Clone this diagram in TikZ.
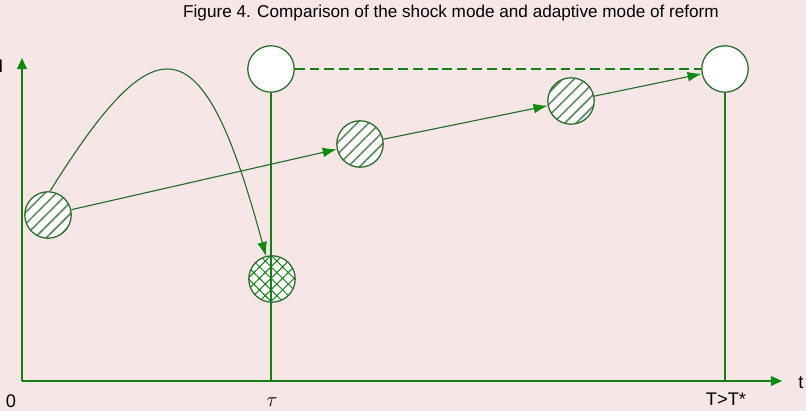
\documentclass[tikz,border=0pt]{standalone}
\usepackage{fontspec}
\setmainfont{Liberation Sans}
\usetikzlibrary{arrows.meta,patterns.meta,positioning}
\definecolor{bgpink}{RGB}{246,230,230}
\definecolor{axisgreen}{RGB}{20,128,20}
\definecolor{rimgreen}{RGB}{40,108,40}
\definecolor{hatchgreen}{RGB}{100,140,100}
\definecolor{tipgreen}{RGB}{12,140,12}
\tikzset{
  stage/.style={
    shape = circle,
    minimum size = 33pt,
    inner sep = 0pt,
    draw = rimgreen,
    line width = 0.9pt
  },
  blank/.style={
    stage,
    fill = white
  },
  hatched/.style={
    stage,
    preaction = {fill = white},
    pattern = {Lines[angle=45, distance=5.8pt, line width=1.2pt]},
    pattern color = hatchgreen
  },
  crossed/.style={
    stage,
    preaction = {fill = white},
    pattern = {Hatch[angle=45, distance=5.8pt, line width=0.7pt]},
    pattern color = axisgreen
  },
}
\tikzset{
  axis/.style={
    draw = axisgreen,
    line width = 1.1pt,
    -{Triangle[length=8pt, width=7pt, color=tipgreen]}
  },
  guide/.style={
    draw = axisgreen,
    line width = 0.9pt
  },
  move/.style={
    draw = rimgreen,
    line width = 0.8pt,
    -{Latex[length=10pt, width=7pt, color=tipgreen]}
  },
  lab/.style={
    font = \fontsize{13}{15}\selectfont,
    inner sep = 0pt
  }
}

\begin{document}
\begin{tikzpicture}[x=0.025cm, y=0.025cm]
\fill[bgpink] (0,0) rectangle (806,411);
\useasboundingbox (0,0) rectangle (806,411);
\node[font=\fontsize{12.2}{14}\selectfont] (title) at (451,398) {Figure 4. Comparison of the shock mode and adaptive mode of reform};
\coordinate (O) at (22,30);
\coordinate (ytip) at (22,353);
\coordinate (xtip) at (782,30);
\draw[axis] (O) -- (ytip);
\draw[axis] (O) -- (xtip);
\node[lab] (Ilab) at (1,345) {I};
\node[lab] (tlab) at (801,28) {t};
\node[lab] (zero) at (11,10) {0};
\foreach \name/\pos in {A/{48,196}, D/{360,267}, E/{571,310}}
  \node[hatched] (\name) at (\pos) {};
\node[blank] (B) at (271,342) {};
\node[blank] (F) at (725,342) {};
\node[crossed] (C) at (272,132) {};
\draw[guide] (B) -- (B |- O);
\draw[guide] (F) -- (F |- O);
\draw[guide, dash pattern=on 7pt off 3.5pt] (B) -- (F);
\node[lab, font=\fontsize{14}{16}\selectfont] (taulab) at (272,9) {$\tau$};
\node[lab] (Tlab) at (726,12) {T>T*};
\draw[move] (A) -- (D);
\draw[move] (D) -- (E);
\draw[move] (E) -- (F);
\draw[move] (A.85) .. controls +(58:200) and +(105:245) .. (C.105);
\end{tikzpicture}
\end{document}
